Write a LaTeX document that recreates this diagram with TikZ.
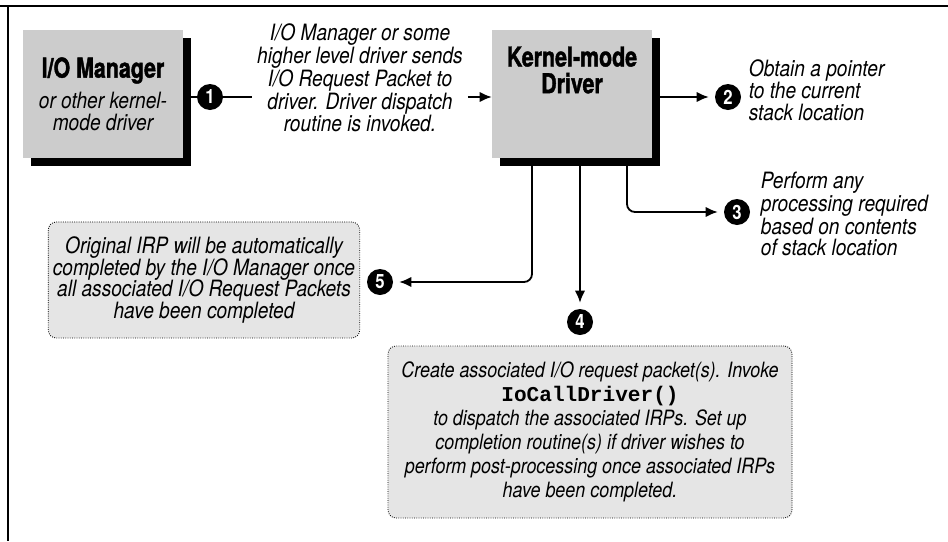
\documentclass[tikz,border=0pt]{standalone}
\usepackage{fontspec}
\setmainfont{TeX Gyre Heros}[FakeStretch=0.85]
\newfontfamily\titlefam{TeX Gyre Heros}[FakeStretch=0.78, FakeBold=1.5]
\setmonofont{Liberation Mono}
\usetikzlibrary{positioning,arrows.meta,shadows}
\definecolor{boxgray}{gray}{0.80}
\definecolor{notegray}{gray}{0.90}
\newcommand\titlefont{\fontsize{19.5}{19}\titlefam\bfseries\upshape}
\newcommand\desctext{\fontsize{16}{15.6}\selectfont\itshape}

\begin{document}
\begin{tikzpicture}[x=0.25mm,y=-0.25mm,
    bigbox/.style={fill=boxgray, minimum width=40mm, minimum height=32mm, align=center,
        drop shadow={shadow xshift=2mm, shadow yshift=-2mm, fill=black, opacity=1}},
    note/.style={draw, densely dotted, line width=0.6pt, rounded corners=2mm, fill=notegray, align=center},
    num/.style={circle, fill=black, text=white, inner sep=0pt, minimum size=6.5mm,
        font=\fontsize{14}{14}\selectfont\bfseries},
    desc/.style={font=\desctext},
    flow/.style={line width=1.3pt, -{Latex[length=3mm,width=2.6mm]}, rounded corners=2mm}]
    \useasboundingbox (0,0) rectangle (948,541);
    \draw[line width=0.5mm] (0,6) -- (948,6);
    \draw[line width=0.5mm] (8,6) -- (8,541);

    % the two drivers
    \node[bigbox, font=\desctext] (iom) at (103,94) {{\titlefont I/O Manager}\\[5pt]or other kernel-\\mode driver};
    \node[bigbox, label={[font=\titlefont, align=center, yshift=6mm]center:Kernel-mode\\Driver}] (kd) at (572,94) {};

    % step markers
    \node[num] (n1) at (210,97) {1};
    \node[num] (n2) at (728,97) {2};
    \node[num] (n3) at (737,212) {3};
    \node[num] (n4) at (580,322) {4};
    \node[num] (n5) at (380,282) {5};

    % texts
    \node[desc, align=center, font=\fontsize{16}{15}\selectfont\itshape] (t1) at (360,78) {I/O Manager or some\\higher level driver sends\\I/O Request Packet to\\driver. Driver dispatch\\routine is invoked.};
    \node[desc, align=left, anchor=west] (t2) at (744,90) {Obtain a pointer\\to the current\\stack location};
    \node[desc, align=left, anchor=west, font=\fontsize{16}{15}\selectfont\itshape] (t3) at (756,214) {Perform any\\processing required\\based on contents\\of stack location};
    \node[note, minimum width=77mm, minimum height=29mm, font=\desctext] (irp) at (204,280) {Original IRP will be automatically\\completed by the I/O Manager once\\all associated I/O Request Packets\\have been completed};
    \node[note, minimum width=101mm, minimum height=43mm, font=\fontsize{15}{17}\selectfont\itshape] (sub) at (590,432) {Create associated I/O request packet(s). Invoke\\{\upshape\ttfamily\bfseries IoCallDriver()}\\to dispatch the associated IRPs. Set up\\completion routine(s) if driver wishes to\\perform post-processing once associated IRPs\\have been completed.};

    % connectors
    \draw[line width=1.3pt] (iom.east |- n1) -- (n1) -- (t1.west |- n1);
    \draw[flow] (t1.east |- n1) -- (kd.west |- n1);
    \draw[flow, shorten >=1.5mm] (kd.east |- n2) -- (n2);
    \draw[flow, shorten >=1.5mm] ([xshift=13.75mm]kd.south) |- (n3);
    \draw[flow, shorten >=1.5mm] (kd.south -| n4) -- (n4);
    \draw[flow, shorten >=1.5mm] ([xshift=-10mm]kd.south) |- (n5);
\end{tikzpicture}
\end{document}
